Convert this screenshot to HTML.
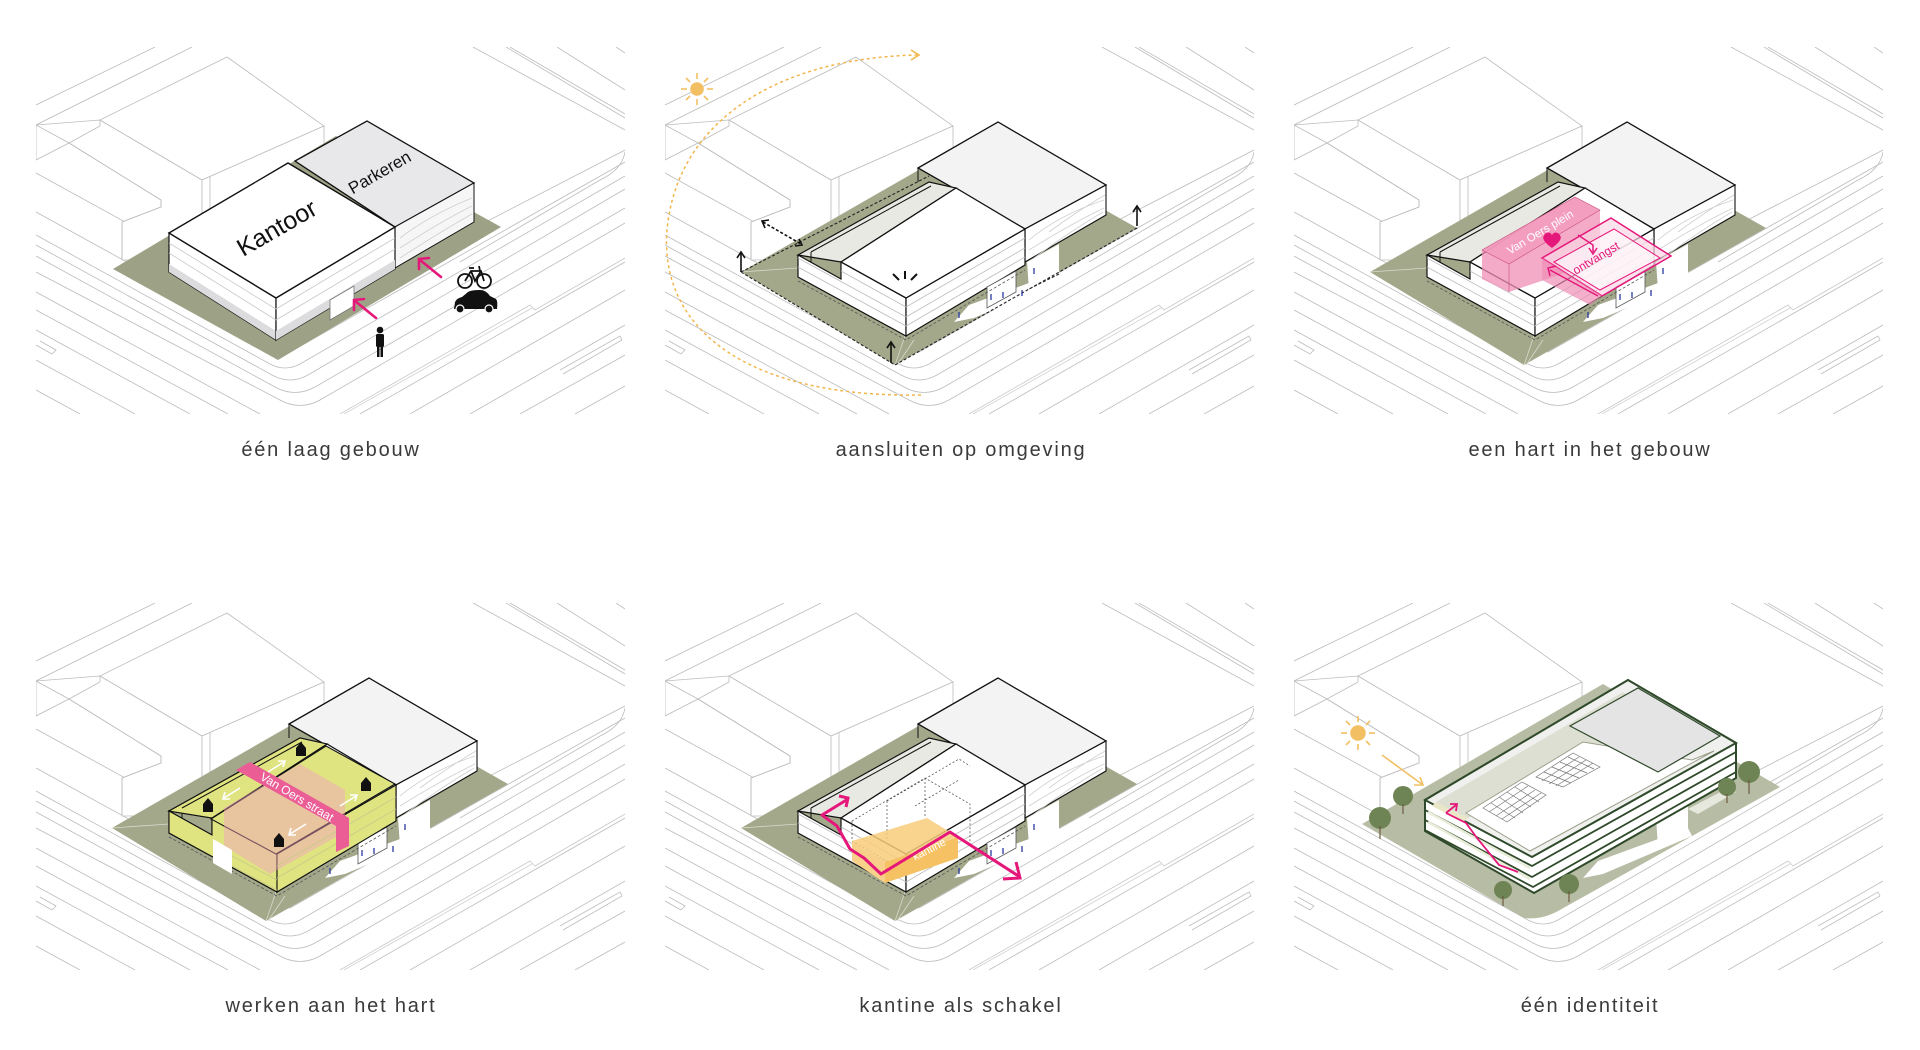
<!DOCTYPE html>
<html><head><meta charset="utf-8"><style>
html,body{margin:0;padding:0;background:#fff;}
svg{display:block;}
.cap{font-family:"Liberation Sans","DejaVu Sans",sans-serif;font-size:20px;fill:#3a3a3a;letter-spacing:1.8px;text-anchor:middle;}
</style></head><body>
<svg width="1920" height="1050" viewBox="0 0 1920 1050" xmlns="http://www.w3.org/2000/svg">
<defs>
<clipPath id="cp"><rect x="36" y="47" width="589" height="367"/></clipPath>
<g id="ctx" fill="none" stroke="#bcbcbc" stroke-width="0.8">
  <path d="M36,173 L300,318 L625,150"/>
  <path d="M36,212 L290,352 L625,162"/>
  <path d="M36,235 L270,364 Q285,372 300,364 L625,176"/>
  <path d="M36,245 L272,375 Q290,385 308,375 L625,189"/>
  <path d="M36,256 L275,387 Q295,398 315,387 L625,208"/>
  <path d="M36,272 L280,400 Q300,411 320,400 L625,223"/>
  <path d="M36,292 L260,414"/>
  <path d="M36,310 L228,414"/>
  <path d="M36,330 L190,414"/>
  <path d="M36,360 L135,414"/>
  <path d="M36,390 L80,414"/>
  <path d="M360,414 L625,262"/>
  <path d="M410,414 L625,290"/>
  <path d="M470,414 L625,325"/>
  <path d="M520,414 L625,355"/>
  <path d="M575,414 L625,386"/>
  <path d="M340,414 L530,305 L535,310 L625,258" stroke="#c8c8c8"/>
  <path d="M344,414 L532,308" stroke="#d0d0d0"/>
  <path d="M36,345 L52,354 L56,350 L40,341"/>
  <path d="M560,370 L620,336 L622,340 L563,374"/>
  <path d="M36,105 L155,47"/>
  <path d="M36,125 L192,47"/>
  <path d="M473,47 L625,130"/>
  <path d="M506,47 L625,118"/>
  <path d="M510,47 L625,114"/>
  <path d="M557,47 L625,90"/>
  <path d="M616,47 L625,53"/>
  <path d="M625,152 Q622,170 600,180 L460,262"/>
  <polygon points="36,125 100,120 202,180 202,260 122,260 122,222 161,207 161,200 69,143 36,160" fill="#fff"/>
  <polyline points="36,125 69,143 161,200 161,207 122,222 122,260"/>
  <polygon points="100,120 227,57 324,126 202,180" fill="#fff"/>
  <polygon points="202,180 324,126 324,230 202,260" fill="#fff"/>
  <line x1="100" y1="120" x2="100" y2="126"/>
  <line x1="69" y1="143" x2="100" y2="126"/>
  <line x1="210" y1="176" x2="210" y2="258"/>
</g>
<g id="site">
  <polygon points="112,272 347,137 508,228 266,365" fill="#a3a88a"/>
  <polygon points="398,262 430,244 430,274 400,290" fill="#fff"/>
  <polygon points="325,322 340,305 430,272 434,280 345,318" fill="#fff"/>
  <line x1="266" y1="365" x2="276" y2="336" stroke="#d8dacb" stroke-width="0.8"/>
  <line x1="268" y1="365" x2="285" y2="340" stroke="#d8dacb" stroke-width="0.8"/>
  <line x1="112" y1="272" x2="169" y2="268" stroke="#d8dacb" stroke-width="0.8"/>
</g>
<g id="park">
  <polygon points="289,168 369,122 477,185 396,229" fill="#f3f3f3" stroke="#111" stroke-width="1.3"/>
  <polygon points="396,229 477,185 477,215 396,262" fill="#fff" stroke="#111" stroke-width="1.1"/>
  <path d="M400,240 Q430,215 475,200 M400,250 Q440,225 475,208 M405,258 Q440,232 474,212 M420,232 Q450,210 476,195" stroke="#cfcfcf" fill="none" stroke-width="0.8"/>
  <line x1="289" y1="168" x2="289" y2="182" stroke="#111" stroke-width="1"/>
</g>
<g id="front">
  <polygon points="169,255 300,182 327,188 212,262" fill="#e9e9e3" stroke="#111" stroke-width="1.2"/>
  <line x1="182" y1="252" x2="302" y2="186" stroke="#111" stroke-width="1"/>
  <line x1="182" y1="252" x2="182" y2="262" stroke="#111" stroke-width="1"/>
  <polygon points="169,255 212,279 212,262 277,298 277,336 169,277" fill="#fff" stroke="#111" stroke-width="1.2"/>
  <polygon points="277,298 396,229 396,265 277,336" fill="#fff" stroke="#111" stroke-width="1.2"/>
  <polygon points="212,262 327,188 396,229 277,298" fill="#fff" stroke="#111" stroke-width="1.3"/>
  <g stroke="#bdbdbd" stroke-width="0.8">
    <line x1="212" y1="271" x2="277" y2="307"/><line x1="169" y1="258" x2="277" y2="317"/><line x1="169" y1="267" x2="277" y2="326"/>
    <line x1="277" y1="307" x2="396" y2="238"/><line x1="277" y1="317" x2="396" y2="248"/><line x1="277" y1="326" x2="396" y2="257"/>
  </g>
  <polygon points="358,287 387,271 387,292 358,308" fill="#fff" stroke="#555" stroke-width="0.8"/>
  <path d="M169,281 L277,340 L396,270" stroke="#555" stroke-width="0.8" stroke-dasharray="3,2" fill="none"/>
  <g stroke="#2a3aa0" stroke-width="1.3"><line x1="362" y1="294" x2="362" y2="300"/><line x1="374" y1="292" x2="374" y2="298"/><line x1="393" y1="290" x2="393" y2="296"/><line x1="405" y1="268" x2="405" y2="274"/><line x1="330" y1="312" x2="330" y2="318"/></g>
</g>
</defs>

<g>
  <g clip-path="url(#cp)"><use href="#ctx"/></g>
  <polygon points="113,269 336,136 501,227 278,360" fill="#9da286"/>
  <polygon points="295,161 367,121 474,183 395,227" fill="#e8e8ea" stroke="#111" stroke-width="1.3"/>
  <polygon points="395,227 474,183 474,222 395,268" fill="#f6f6f6" stroke="#111" stroke-width="1"/>
  <path d="M400,238 Q430,215 472,198 M400,248 Q440,222 472,206 M400,258 Q440,232 472,214" stroke="#cfcfcf" fill="none" stroke-width="0.8"/>
  <polygon points="169,233 276,298 276,340 169,272" fill="#fff" stroke="#111" stroke-width="1.2"/>
  <polygon points="169,264 276,331 276,340 169,272" fill="#dcdcde"/>
  <polygon points="276,298 395,227 395,269 276,340" fill="#fff" stroke="#111" stroke-width="1.2"/>
  <polygon points="276,331 395,260 395,269 276,340" fill="#dcdcde"/>
  <g stroke="#c8c8c8" stroke-width="0.8"><line x1="169" y1="243" x2="276" y2="309"/><line x1="169" y1="253" x2="276" y2="320"/><line x1="276" y1="309" x2="395" y2="238"/><line x1="276" y1="320" x2="395" y2="249"/></g>
  <polygon points="330,300 354,286 354,306 330,320" fill="#fff" stroke="#777" stroke-width="0.8"/>
  <polygon points="169,233 288,163 395,227 276,298" fill="#fff" stroke="#111" stroke-width="1.4"/>
  <text x="278" y="236" transform="rotate(-30 278 230)" font-family="Liberation Sans,sans-serif" font-size="25" text-anchor="middle" fill="#111">Kantoor</text>
  <text x="380" y="178" transform="rotate(-30 380 173)" font-family="Liberation Sans,sans-serif" font-size="17" text-anchor="middle" fill="#111">Parkeren</text>
  <g stroke="#e5177a" stroke-width="2.6" fill="none" stroke-linecap="round">
    <line x1="376" y1="318" x2="355" y2="301"/><polyline points="354,310 354,300 364,299"/>
    <line x1="441" y1="277" x2="420" y2="260"/><polyline points="419,269 419,259 429,258"/>
  </g>
  <g fill="#111"><circle cx="380" cy="330" r="3.3"/><rect x="376" y="334" width="8" height="13" rx="1.5"/><rect x="377" y="346" width="2.5" height="11"/><rect x="380.5" y="346" width="2.5" height="11"/></g>
  <g fill="none" stroke="#111" stroke-width="1.8"><circle cx="465" cy="281" r="7"/><circle cx="484" cy="281" r="7"/><polyline points="465,281 471,271 481,271 484,281"/><polyline points="471,271 475,281 481,271"/><line x1="469" y1="268" x2="474" y2="268"/><line x1="480" y1="271" x2="479" y2="266"/></g>
  <g fill="#111"><path d="M454,309 L455,302 Q457,298 462,297 L468,292 Q471,290 480,290 Q486,290 490,296 L496,299 Q498,301 497,309 Z"/><circle cx="460" cy="309" r="4" stroke="#fff" stroke-width="1.2"/><circle cx="489" cy="309" r="4" stroke="#fff" stroke-width="1.2"/></g>
  <text class="cap" x="331" y="456">één laag gebouw</text>
</g>

<g transform="translate(629,0)">
  <g clip-path="url(#cp)"><use href="#ctx"/></g>
  <use href="#site"/>
  <path d="M112,272 L300,176 M112,272 L266,365 L508,228 L508,222 M430,274 L398,290" stroke="#222" stroke-width="1.1" stroke-dasharray="3,2" fill="none"/>
  <use href="#park"/>
  <use href="#front"/>
  <g stroke="#f2c063" stroke-width="1.6"><circle cx="68" cy="89" r="6" fill="#f2c063"/><line x1="68" y1="73" x2="68" y2="79"/><line x1="68" y1="99" x2="68" y2="105"/><line x1="52" y1="89" x2="58" y2="89"/><line x1="78" y1="89" x2="84" y2="89"/><line x1="57" y1="78" x2="61" y2="82"/><line x1="75" y1="96" x2="79" y2="100"/><line x1="79" y1="78" x2="75" y2="82"/><line x1="57" y1="100" x2="61" y2="96"/></g>
  <path d="M292,395 C120,398 30,330 38,230 C48,120 150,58 288,55" stroke="#f2b54a" stroke-width="1.5" fill="none" stroke-dasharray="3,3"/>
  <polyline points="282,50 290,55 282,60" stroke="#f2b54a" stroke-width="1.5" fill="none"/>
  <g stroke="#111" stroke-width="1.6" fill="none">
    <line x1="112" y1="272" x2="112" y2="253"/><polyline points="108,258 112,252 116,258"/>
    <line x1="262" y1="363" x2="262" y2="343"/><polyline points="258,348 262,342 266,348"/>
    <line x1="508" y1="226" x2="508" y2="207"/><polyline points="504,212 508,206 512,212"/>
    <line x1="134" y1="222" x2="172" y2="244" stroke-dasharray="3,2"/><polyline points="136,228 133,221 140,220"/><polyline points="166,246 173,245 170,239"/>
    <line x1="264" y1="274" x2="270" y2="280" stroke-width="2"/><line x1="276" y1="271" x2="276" y2="279" stroke-width="2"/><line x1="288" y1="274" x2="282" y2="280" stroke-width="2"/>
  </g>
  <text class="cap" x="332" y="456">aansluiten op omgeving</text>
</g>

<g transform="translate(1258,0)">
  <g clip-path="url(#cp)"><use href="#ctx"/></g>
  <use href="#site"/>
  <use href="#park"/>
  <use href="#front"/>
  <polygon points="224,250 317,197 342,210 342,261 251,292 224,279" fill="#f08fb5" fill-opacity="0.75"/>
  <polygon points="224,250 317,197 342,210 251,264" fill="#f29bbd" fill-opacity="0.85" stroke="#c9507f" stroke-width="0.6"/>
  <line x1="251" y1="264" x2="251" y2="292" stroke="#c9507f" stroke-width="0.6"/>
  <text x="282" y="236" transform="rotate(-31 282 232)" font-family="Liberation Sans,sans-serif" font-size="11.5" fill="#fff" text-anchor="middle">Van Oers plein</text>
  <path d="M294,248 C286,242 283,238 287,234 C290,231 294,233 294,236 C294,233 298,231 301,234 C305,238 302,242 294,248Z" fill="#e5177a"/>
  <polygon points="284,258 353,218 413,256 344,296" fill="#fbd6e4" fill-opacity="0.7" stroke="#e5177a" stroke-width="1.5"/>
  <polygon points="296,262 356,229 402,258 342,290" fill="#fff" fill-opacity="0.6" stroke="#e5177a" stroke-width="1"/>
  <polygon points="284,258 284,280 332,305 344,296" fill="#f08fb5" fill-opacity="0.7"/>
  <text x="338" y="262" transform="rotate(-31 338 258)" font-family="Liberation Sans,sans-serif" font-size="12" fill="#e5177a" text-anchor="middle">ontvangst</text>
  <g stroke="#e5177a" stroke-width="1.5" fill="none"><polyline points="340,296 292,270"/><polyline points="292,276 290,268 298,266"/><polyline points="320,235 335,245 335,252"/><polyline points="331,248 335,254 339,248"/></g>
  <text class="cap" x="332" y="456">een hart in het gebouw</text>
</g>

<g transform="translate(0,556)">
  <g clip-path="url(#cp)"><use href="#ctx"/></g>
  <use href="#site"/>
  <use href="#park"/>
  <use href="#front"/>
  <g fill="#dfe481" stroke="#111" stroke-width="1.1">
    <polygon points="169,255 300,182 327,188 212,262"/>
    <polygon points="169,255 212,279 212,262 277,298 277,336 169,277"/>
    <polygon points="277,298 396,229 396,265 277,336"/>
    <polygon points="211,263 326,190 395,228 276,298"/>
  </g>
  <line x1="182" y1="252" x2="302" y2="186" stroke="#111" stroke-width="1"/>
  <polygon points="224,252 300,208 345,234 345,276 270,318 224,290" fill="#f4a0c0" fill-opacity="0.45"/>
  <polygon points="213,283 232,294 232,318 213,307" fill="#fff"/>
  <g stroke="#c9c98a" stroke-width="0.8"><line x1="232" y1="300" x2="277" y2="324"/><line x1="232" y1="310" x2="277" y2="334"/><line x1="277" y1="310" x2="396" y2="241"/><line x1="277" y1="322" x2="396" y2="253"/></g>
  <polygon points="236,214 250,206 349,262 349,290 336,296 336,270" fill="#ea5d95"/>
  <text x="297" y="245" transform="rotate(31 297 241)" font-family="Liberation Sans,sans-serif" font-size="12" fill="#fff" text-anchor="middle">Van Oers straat</text>
  <g fill="#111"><path d="M296,200 L296,192 L301,186 L306,192 L306,200Z"/><path d="M361,235 L361,227 L366,221 L371,227 L371,235Z"/><path d="M203,256 L203,248 L208,242 L213,248 L213,256Z"/><path d="M274,291 L274,283 L279,277 L284,283 L284,291Z"/></g>
  <g stroke="#fff" stroke-width="1.6" fill="none"><line x1="268" y1="216" x2="284" y2="206"/><polyline points="278,205 285,205 283,211"/><line x1="240" y1="232" x2="224" y2="242"/><polyline points="225,236 223,243 230,243"/><line x1="340" y1="250" x2="356" y2="240"/><polyline points="350,239 357,239 355,245"/><line x1="306" y1="268" x2="290" y2="278"/><polyline points="291,272 289,279 296,279"/></g>
  <text class="cap" x="331" y="456">werken aan het hart</text>
</g>

<g transform="translate(629,556)">
  <g clip-path="url(#cp)"><use href="#ctx"/></g>
  <use href="#site"/>
  <use href="#park"/>
  <use href="#front"/>
  <g stroke="#444" stroke-width="0.7" stroke-dasharray="2,2" fill="none">
    <polyline points="223,265 296,222 341,248 341,290"/><polyline points="258,245 330,203 341,210"/><line x1="258" y1="245" x2="258" y2="285"/><line x1="296" y1="222" x2="296" y2="262"/><polyline points="223,265 223,285 260,306"/><line x1="286" y1="250" x2="330" y2="224"/>
  </g>
  <polygon points="223,285 298,262 329,281 256,306" fill="#f8cc7a" fill-opacity="0.85"/>
  <polygon points="256,306 329,281 329,302 256,327" fill="#f6c163"/>
  <polygon points="223,285 256,306 256,327 223,305" fill="#f8d08a"/>
  <text x="300" y="297" transform="rotate(-27 300 293)" font-family="Liberation Sans,sans-serif" font-size="11" fill="#fff" text-anchor="middle">kantine</text>
  <polyline points="219,243 193,259 208,270 221,293 235,302 252,318 321,276 391,321" stroke="#e5177a" stroke-width="3" fill="none" stroke-linejoin="round"/>
  <polyline points="210,240 219,242 217,251" stroke="#e5177a" stroke-width="3" fill="none"/>
  <polyline points="374,323 391,322 387,306" stroke="#e5177a" stroke-width="3" fill="none"/>
  <text class="cap" x="332" y="456">kantine als schakel</text>
</g>

<g transform="translate(1258,556)">
  <g clip-path="url(#cp)"><use href="#ctx"/></g>
  <path d="M104,268 L345,128 L522,231 L300,355 Q284,364 266,362 Z" fill="#b7bca4"/>
  <polygon points="398,262 430,244 430,274 400,290" fill="#fff"/>
  <polygon points="325,322 340,305 430,272 434,280 345,318" fill="#fff"/>
  <polygon points="430,253 470,232 478,236 440,258" fill="#e6e8de"/>
  <polygon points="167,244 370,124 478,187 478,222 276,337 167,275" fill="#fff" stroke="#2f4a2a" stroke-width="2"/>
  <g stroke="#2f4a2a" stroke-width="1.8" fill="none">
    <path d="M167,254 L274,310 L478,196"/><path d="M167,264 L274,321 L478,206"/><path d="M167,274 L275,331 L478,216"/>
  </g>
  <g stroke="#e8ecd8" stroke-width="2.5" fill="none"><path d="M170,256 L272,312"/><path d="M170,266 L272,323"/></g>
  <polygon points="167,244 370,124 478,187 274,301" fill="#f0f0ee" stroke="#2f4a2a" stroke-width="2"/>
  <polygon points="178,246 365,136 400,157 210,262" fill="#dedfd3"/>
  <polygon points="178,246 210,262 205,266 174,250" fill="#eae6c8"/>
  <polygon points="208,257 325,186 434,204 456,195 272,295" fill="#fff" stroke="#9aa08a" stroke-width="1"/>
  <polygon points="312,170 380,132 462,180 400,216" fill="#e4e4e4" stroke="#2f4a2a" stroke-width="1.2"/>
  <g stroke="#777" stroke-width="0.7" fill="none">
    <polygon points="225,252 264,226 288,239 249,266"/>
    <path d="M233,247 L257,262 M241,241 L265,257 M249,236 L273,251 M257,231 L281,246 M231,256 L270,230 M238,260 L277,234 M244,263 L283,237"/>
    <polygon points="278,221 315,197 342,211 305,231"/>
    <path d="M286,216 L313,227 M294,211 L321,222 M302,206 L329,217 M310,201 L336,213 M284,225 L321,201 M291,228 L328,204 M298,230 L335,207"/>
  </g>
  <polyline points="188,257 208,267 219,282 241,309 260,316" stroke="#e5177a" stroke-width="1.8" fill="none"/>
  <polyline points="188,257 198,249" stroke="#e5177a" stroke-width="1.8" fill="none"/>
  <polyline points="192,248 199,248 198,255" stroke="#e5177a" stroke-width="1.8" fill="none"/>
  <g fill="#6f8455"><circle cx="122" cy="262" r="11"/><circle cx="145" cy="240" r="10"/><circle cx="245" cy="334" r="9"/><circle cx="311" cy="328" r="10"/><circle cx="491" cy="216" r="11"/><circle cx="469" cy="231" r="9"/></g>
  <g stroke="#6b5a40" stroke-width="1.2"><line x1="122" y1="270" x2="122" y2="283"/><line x1="145" y1="248" x2="145" y2="258"/><line x1="245" y1="340" x2="245" y2="350"/><line x1="311" y1="335" x2="311" y2="346"/><line x1="491" y1="224" x2="491" y2="238"/><line x1="469" y1="238" x2="469" y2="247"/></g>
  <g stroke="#f2c063" stroke-width="1.6"><circle cx="100" cy="177" r="7" fill="#f2c063"/><line x1="100" y1="160" x2="100" y2="166"/><line x1="100" y1="188" x2="100" y2="194"/><line x1="83" y1="177" x2="89" y2="177"/><line x1="111" y1="177" x2="117" y2="177"/><line x1="88" y1="165" x2="92" y2="169"/><line x1="108" y1="185" x2="112" y2="189"/><line x1="112" y1="165" x2="108" y2="169"/><line x1="88" y1="189" x2="92" y2="185"/></g>
  <line x1="124" y1="199" x2="165" y2="229" stroke="#f2c063" stroke-width="1.6"/>
  <polyline points="156,229 165,229 162,221" stroke="#f2c063" stroke-width="1.6" fill="none"/>
  <text class="cap" x="332" y="456">één identiteit</text>
</g>
</svg>
</body></html>
